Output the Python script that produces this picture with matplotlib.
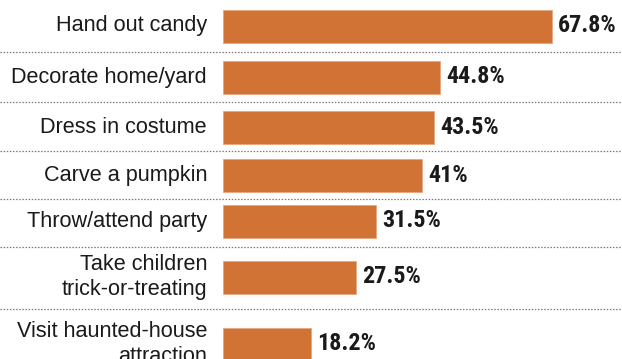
import matplotlib
matplotlib.use("Agg")
import matplotlib.pyplot as plt
import matplotlib.transforms as mtransforms

# ---- data ----
categories = [
    "Hand out candy",
    "Decorate home/yard",
    "Dress in costume",
    "Carve a pumpkin",
    "Throw/attend party",
    "Take children\ntrick-or-treating",
    "Visit haunted-house\nattraction",
]
values = [67.8, 44.8, 43.5, 41.0, 31.5, 27.5, 18.2]
value_labels = ["67.8%", "44.8%", "43.5%", "41%", "31.5%", "27.5%", "18.2%"]

# ---- layout (figure pixel rows) ----
W, H = 622, 359
bar_rows = [26, 77, 127.5, 175.5, 221, 277, 344]
rule_rows = [52, 101.5, 151, 199, 247.3, 309.3]
bar_height = 33
x0_px = 223
px_per_unit = 4.853
bar_color = "#D07335"

fig = plt.figure(figsize=(W / 100, H / 100), dpi=100)
ax = fig.add_axes([x0_px / W, 0, (W - x0_px) / W, 1])
ax.set_xlim(0, (W - x0_px) / px_per_unit)
ax.set_ylim(H, 0)
ax.axis("off")

ax.barh(bar_rows, values, height=bar_height, color=bar_color,
        edgecolor="#E8A77E", linewidth=0.6)

# dotted separators spanning full width
trans = mtransforms.blended_transform_factory(fig.transFigure, ax.transData)
for r in rule_rows:
    ax.plot([0, 1], [r, r], transform=trans, clip_on=False,
            color="#7a7a7a", linewidth=0.9, linestyle=(0, (1.2, 1.3)))

# category labels
label_off = mtransforms.offset_copy(ax.transData, fig=fig, x=-16, y=0, units="dots")
for cat, r in zip(categories, bar_rows):
    ax.text(0, r, cat, transform=label_off, ha="right", va="center",
            fontsize=15.6, family=["Liberation Sans", "DejaVu Sans"],
            color="#1a1a1a", linespacing=1.22)

# value labels
val_off = mtransforms.offset_copy(ax.transData, fig=fig, x=6, y=0.5, units="dots")
for v, lab, r in zip(values, value_labels, bar_rows):
    ax.text(v, r, lab, transform=val_off, ha="left", va="center",
            fontsize=17.3, fontweight="bold",
            family=["Roboto Condensed", "Archivo Narrow", "DejaVu Sans"],
            color="#1a1a1a")

fig.savefig("out.png", dpi=100, facecolor="white")
